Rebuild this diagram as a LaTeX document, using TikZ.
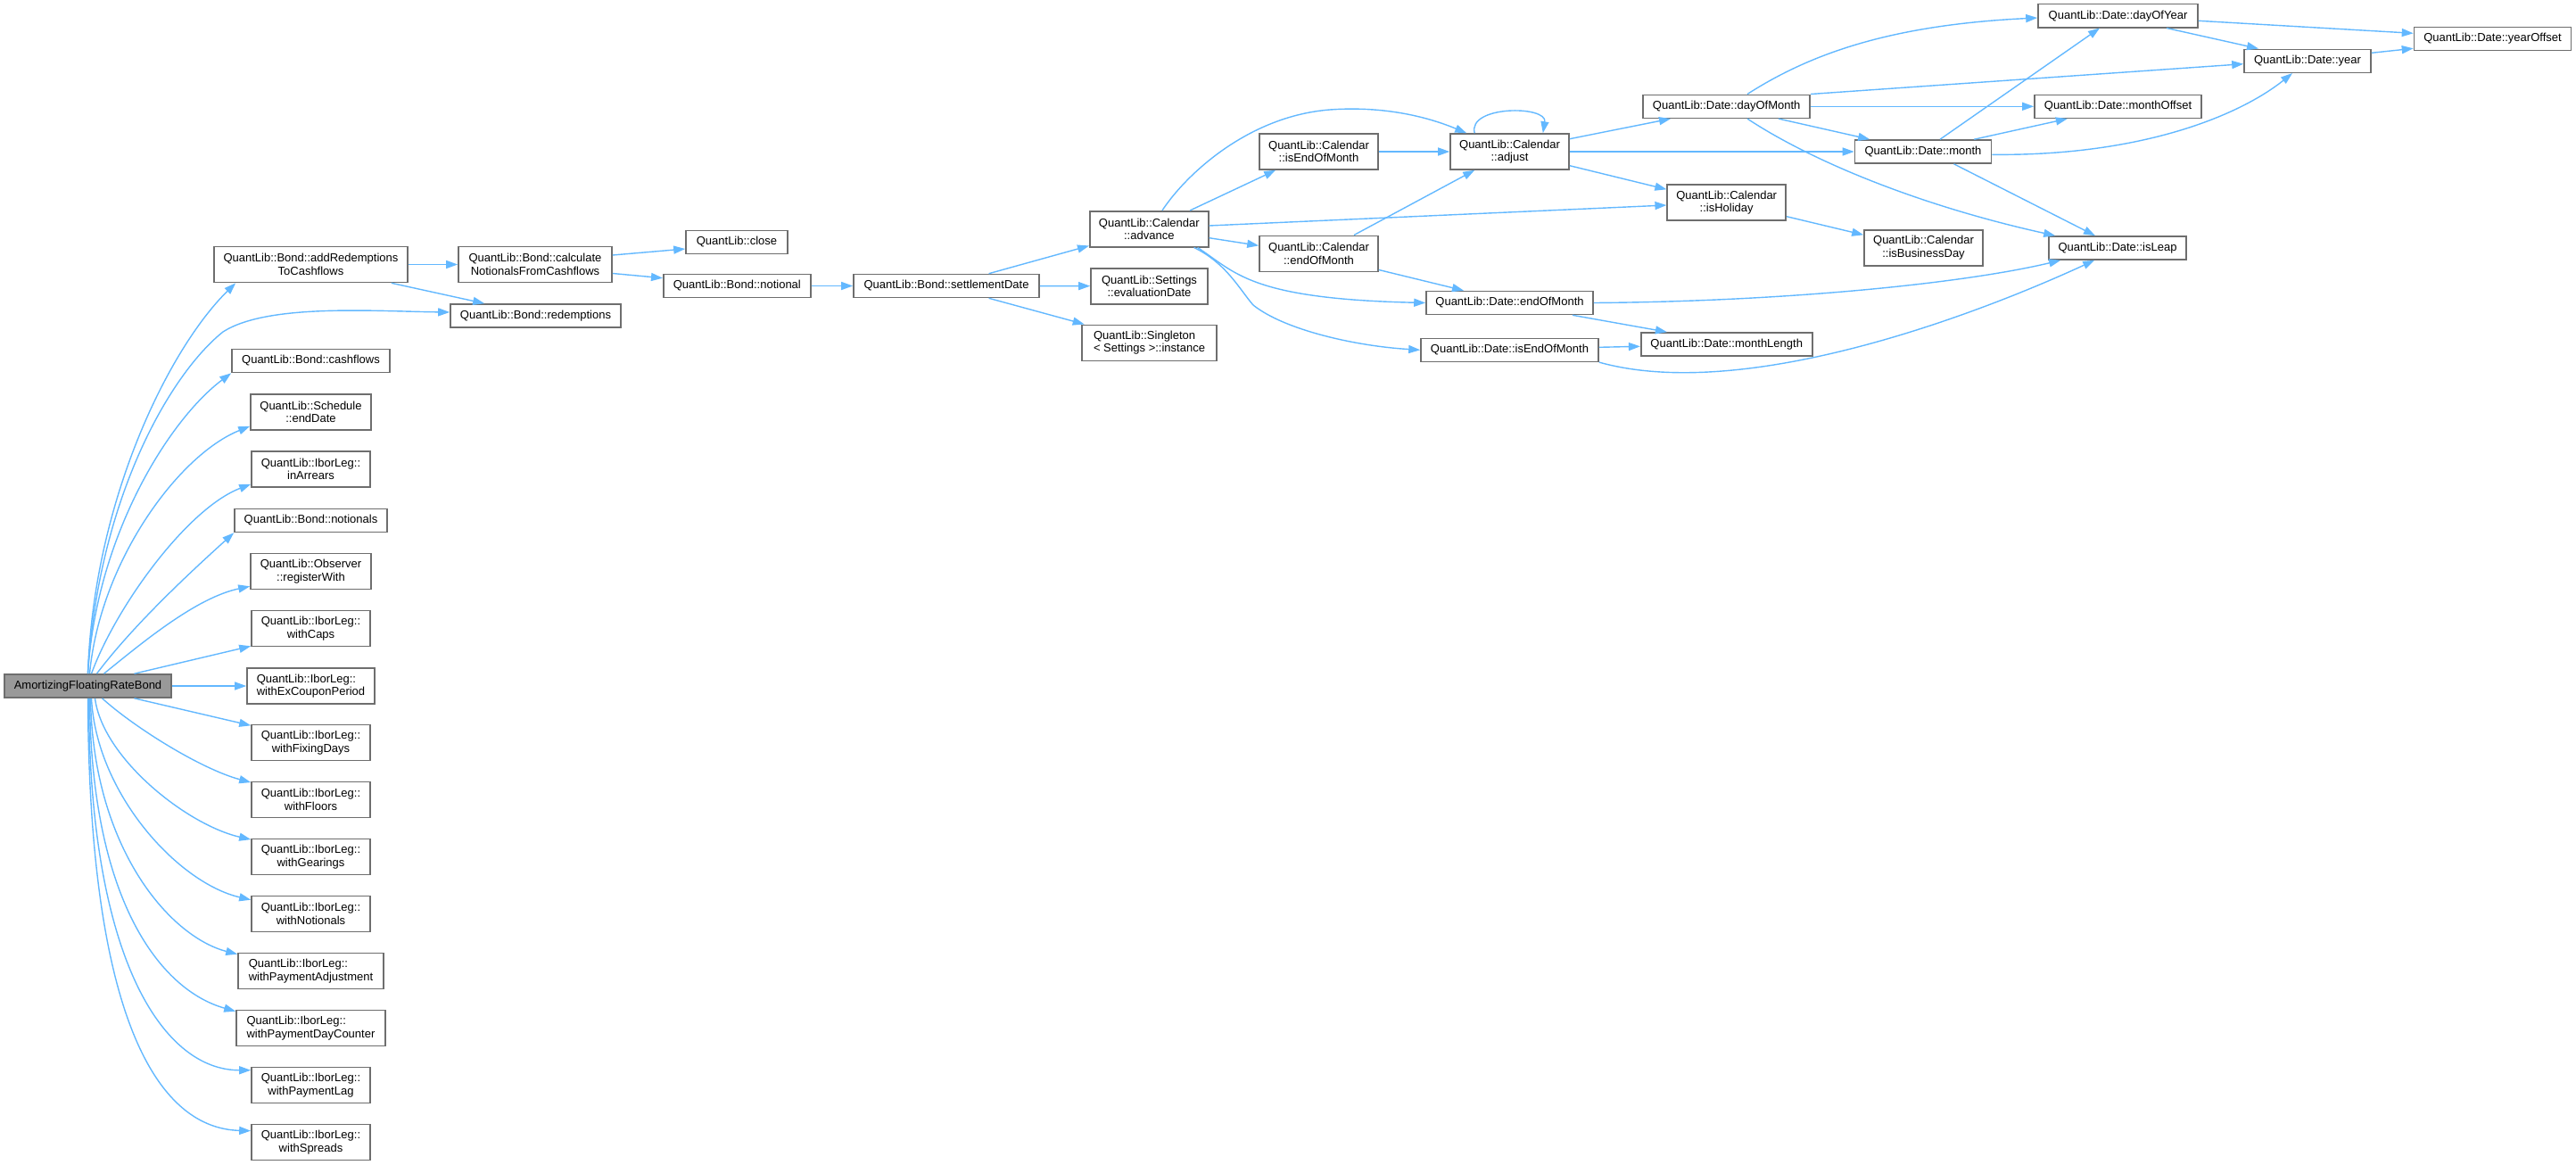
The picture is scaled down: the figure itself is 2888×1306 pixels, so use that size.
\documentclass[tikz,border=0pt]{standalone}
\usepackage{fontspec}
\setmainfont{Liberation Sans}
\usetikzlibrary{arrows.meta}
\definecolor{edgeblue}{HTML}{63B8FF}
\definecolor{boxgrey}{HTML}{6E6E6E}
\definecolor{rootgrey}{HTML}{999999}

\begin{document}
\begin{tikzpicture}[x=0.5pt,y=-0.5pt]
    \tikzstyle{fn}=[draw=boxgrey,line width=0.8pt,fill=white,inner sep=0pt,minimum height=13pt,font=\fontsize{6.5}{7.2}\selectfont,align=center]
    \tikzstyle{fntwo}=[fn,minimum height=20pt]
    \tikzstyle{call}=[draw=edgeblue,line width=0.7pt,-{Triangle[length=6.5pt,width=4.5pt]}]
    \useasboundingbox (0,0) rectangle (2888,1306);
      \node[fn,fill=rootgrey,minimum width=93.5pt] (root) at (98.5,769) {AmortizingFloatingRateBond};
      \node[fntwo,minimum width=108.5pt] (addRed) at (348.5,296.5) {QuantLib::Bond::addRedemptions\\ToCashflows};
      \node[fn,minimum width=88.5pt] (cashfl) at (348.5,404.5) {QuantLib::Bond::cashflows};
      \node[fntwo,minimum width=67.5pt] (endDate) at (348.5,462) {QuantLib::Schedule\\::endDate};
      \node[fntwo,minimum width=66.5pt] (inArr) at (348.5,526) {QuantLib::IborLeg::\\inArrears};
      \node[fn,minimum width=85.5pt] (notionals) at (348.5,583.5) {QuantLib::Bond::notionals};
      \node[fntwo,minimum width=67.5pt] (regWith) at (348.5,640.5) {QuantLib::Observer\\::registerWith};
      \node[fntwo,minimum width=66.5pt] (wCaps) at (348.5,704.5) {QuantLib::IborLeg::\\withCaps};
      \node[fntwo,minimum width=71.5pt,align=left] (wExCoup) at (348.5,769) {QuantLib::IborLeg::\\withExCouponPeriod};
      \node[fntwo,minimum width=66.5pt] (wFixDays) at (348.5,832.5) {QuantLib::IborLeg::\\withFixingDays};
      \node[fntwo,minimum width=66.5pt] (wFloors) at (348.5,896.5) {QuantLib::IborLeg::\\withFloors};
      \node[fntwo,minimum width=66.5pt] (wGear) at (348.5,960.5) {QuantLib::IborLeg::\\withGearings};
      \node[fntwo,minimum width=66.5pt] (wNot) at (348.5,1024.5) {QuantLib::IborLeg::\\withNotionals};
      \node[fntwo,minimum width=81.5pt,align=left] (wPayAdj) at (348.5,1088.5) {QuantLib::IborLeg::\\withPaymentAdjustment};
      \node[fntwo,minimum width=83.5pt,align=left] (wPayDC) at (348.5,1152.5) {QuantLib::IborLeg::\\withPaymentDayCounter};
      \node[fntwo,minimum width=66.5pt] (wPayLag) at (348.5,1216.5) {QuantLib::IborLeg::\\withPaymentLag};
      \node[fntwo,minimum width=66.5pt] (wSpreads) at (348.5,1280.5) {QuantLib::IborLeg::\\withSpreads};
      \node[fntwo,minimum width=86pt] (calcNot) at (600,296.5) {QuantLib::Bond::calculate\\NotionalsFromCashflows};
      \node[fn,minimum width=95.5pt] (redem) at (600.5,354) {QuantLib::Bond::redemptions};
      \node[fn,minimum width=57pt] (close) at (826,271.5) {QuantLib::close};
      \node[fn,minimum width=82.5pt] (notional) at (826.3,320.5) {QuantLib::Bond::notional};
      \node[fn,minimum width=104pt] (settle) at (1061,320.5) {QuantLib::Bond::settlementDate};
      \node[fntwo,minimum width=66.5pt] (advance) at (1288.3,256.7) {QuantLib::Calendar\\::advance};
      \node[fntwo,minimum width=65.5pt] (evalDate) at (1288.5,320.7) {QuantLib::Settings\\::evaluationDate};
      \node[fntwo,minimum width=75.5pt,align=left] (inst) at (1288.5,384.3) {QuantLib::Singleton\\< Settings >::instance};
      \node[fntwo,minimum width=66.5pt] (calIsEom) at (1478.5,170) {QuantLib::Calendar\\::isEndOfMonth};
      \node[fntwo,minimum width=66.5pt] (calEom) at (1478.5,284.3) {QuantLib::Calendar\\::endOfMonth};
      \node[fntwo,minimum width=66.5pt] (adjust) at (1692.5,170) {QuantLib::Calendar\\::adjust};
      \node[fn,minimum width=93.5pt] (dEom) at (1692.5,339.5) {QuantLib::Date::endOfMonth};
      \node[fn,minimum width=99.5pt] (dIsEom) at (1692.5,392.3) {QuantLib::Date::isEndOfMonth};
      \node[fn,minimum width=93.5pt] (dom) at (1935.7,119.3) {QuantLib::Date::dayOfMonth};
      \node[fntwo,minimum width=66.5pt] (isHol) at (1935.7,227) {QuantLib::Calendar\\::isHoliday};
      \node[fn,minimum width=96pt] (mLen) at (1935.7,386) {QuantLib::Date::monthLength};
      \node[fn,minimum width=76.5pt] (month) at (2156,170) {QuantLib::Date::month};
      \node[fntwo,minimum width=66.5pt] (isBus) at (2156.5,277.7) {QuantLib::Calendar\\::isBusinessDay};
      \node[fn,minimum width=89.5pt] (doy) at (2374.5,17.7) {QuantLib::Date::dayOfYear};
      \node[fn,minimum width=93.5pt] (mOff) at (2374.5,119.3) {QuantLib::Date::monthOffset};
      \node[fn,minimum width=77pt] (isLeap) at (2374,278) {QuantLib::Date::isLeap};
      \node[fn,minimum width=71pt] (year) at (2587,68.3) {QuantLib::Date::year};
      \node[fn,minimum width=88pt] (yOff) at (2794.5,43.3) {QuantLib::Date::yearOffset};
      \draw[call] (root.north) .. controls (105,560) and (190,390) .. ([xshift=12.5pt]addRed.south west);
      \draw[call] (root.north) .. controls (110,560) and (190,420) .. (250,372) .. controls (300,340) and (420,349) .. ([yshift=2pt]redem.west);
      \draw[call] (root.north) .. controls (108,600) and (190,470) .. (cashfl.south west);
      \draw[call] ([xshift=1pt]root.north) .. controls (112,630) and (200,510) .. ([yshift=2.5pt]endDate.south west);
      \draw[call] ([xshift=2pt]root.north) .. controls (130,680) and (210,570) .. ([yshift=2pt]inArr.south west);
      \draw[call] ([xshift=5pt]root.north) .. controls (150,700) and (215,640) .. (notionals.south west);
      \draw[call] ([xshift=9pt]root.north) .. controls (160,720) and (220,670) .. ([yshift=2pt]regWith.south west);
      \draw[call] ([xshift=26pt]root.north) -- ([yshift=0.5pt]wCaps.south west);
      \draw[call] (root) -- (wExCoup);
      \draw[call] ([xshift=26pt]root.south) -- ([yshift=-0.8pt]wFixDays.north west);
      \draw[call] ([xshift=8pt]root.south) .. controls (150,815) and (225,862) .. ([yshift=-0.7pt]wFloors.north west);
      \draw[call] ([xshift=4pt]root.south) .. controls (115,850) and (210,925) .. ([yshift=-0.7pt]wGear.north west);
      \draw[call] ([xshift=2pt]root.south) .. controls (108,890) and (200,990) .. ([yshift=-2.5pt]wNot.north west);
      \draw[call] ([xshift=1.5pt]root.south) .. controls (104,950) and (190,1050) .. ([yshift=-1pt]wPayAdj.north west);
      \draw[call] ([xshift=1pt]root.south) .. controls (102,1010) and (180,1110) .. ([yshift=-1pt]wPayDC.north west);
      \draw[call] ([xshift=0.5pt]root.south) .. controls (100,1080) and (185,1200) .. ([yshift=-2pt]wPayLag.north west);
      \draw[call] (root.south) .. controls (100,1150) and (180,1265) .. ([yshift=-4pt]wSpreads.north west);
      \draw[call] (addRed) -- (calcNot);
      \draw[call] ([xshift=-9.5pt]addRed.south east) -- ([xshift=19.5pt]redem.north west);
      \draw[call] ([yshift=5.25pt]calcNot.east) -- ([yshift=-3.75pt]close.west);
      \draw[call] ([yshift=-5pt]calcNot.east) -- ([yshift=4.4pt]notional.west);
      \draw[call] (notional) -- (settle);
      \draw[call] ([xshift=23.8pt]settle.north) -- ([yshift=1pt]advance.south west);
      \draw[call] (settle) -- (evalDate);
      \draw[call] ([xshift=23.8pt]settle.south) -- ([xshift=1.75pt]inst.north west);
      \draw[call] ([xshift=7.35pt]advance.north) .. controls (1330,195) and (1400,130) .. (1491,123) .. controls (1560,118) and (1610,135) .. ([xshift=9.5pt]adjust.north west);
      \draw[call] ([xshift=-10.7pt]advance.north east) -- ([xshift=9.5pt]calIsEom.south west);
      \draw[call] ([yshift=1.85pt]advance.east) -- ([yshift=-1.5pt]isHol.west);
      \draw[call] ([yshift=-5pt]advance.east) -- ([yshift=4.5pt]calEom.west);
      \draw[call] ([xshift=-6.5pt]advance.south east) .. controls (1385,305) and (1400,335) .. (dEom.west);
      \draw[call] ([xshift=-8.5pt]advance.south east) .. controls (1375,295) and (1390,325) .. (1405,342) .. controls (1440,370) and (1520,388) .. (dIsEom.west);
      \draw[call] (calIsEom) -- (adjust);
      \draw[call] ([xshift=19.75pt]calEom.north) -- ([xshift=14pt]adjust.south west);
      \draw[call] ([yshift=1.3pt]calEom.south east) -- ([xshift=21.4pt]dEom.north west);
      \draw[call] ([xshift=14pt]adjust.north west) .. controls (1645,118) and (1735,118) .. ([xshift=-15pt]adjust.north east);
      \draw[call] ([yshift=7.15pt]adjust.east) -- ([xshift=15.8pt]dom.south west);
      \draw[call] (adjust) -- (month);
      \draw[call] ([yshift=-7.85pt]adjust.east) -- ([yshift=7.35pt]isHol.west);
      \draw[call] ([yshift=-7.85pt]isHol.east) -- ([yshift=7.2pt]isBus.west);
      \draw[call] ([xshift=35.25pt]dEom.south) -- ([xshift=15pt]mLen.north west);
      \draw[call] ([yshift=1.5pt]dIsEom.east) -- ([yshift=-1.15pt]mLen.west);
      \draw[call] (dEom.east) .. controls (2000,338) and (2200,318) .. ([xshift=7pt]isLeap.south west);
      \draw[call] (dIsEom.south east) .. controls (1950,450) and (2200,360) .. ([xshift=26pt]isLeap.south west);
      \draw[call] ([xshift=11.65pt]dom.north) .. controls (2030,60) and (2120,28) .. ([yshift=-1.15pt]doy.west);
      \draw[call] (dom.north east) -- ([yshift=-1.7pt]year.west);
      \draw[call] (dom) -- (mOff);
      \draw[call] ([xshift=-18pt]dom.south east) -- ([xshift=8.75pt]month.north west);
      \draw[call] ([xshift=11.65pt]dom.south) .. controls (2030,180) and (2150,230) .. ([xshift=4pt]isLeap.north west);
      \draw[call] ([xshift=9.5pt]month.north) -- ([xshift=-10.25pt]doy.south);
      \draw[call] ([xshift=-10pt]month.north east) -- ([xshift=18.8pt]mOff.south west);
      \draw[call] ([yshift=-1.65pt]month.east) .. controls (2400,175) and (2510,130) .. ([xshift=-8.5pt]year.south);
      \draw[call] ([xshift=17.25pt]month.south) -- ([xshift=-12.5pt]isLeap.north);
      \draw[call] ([yshift=-2.8pt]doy.east) -- ([yshift=3pt]yOff.west);
      \draw[call] ([xshift=27.25pt]doy.south) -- ([xshift=-27.5pt]year.north);
      \draw[call] ([yshift=4.5pt]year.east) -- ([yshift=-5.5pt]yOff.west);
    \end{tikzpicture}
\end{document}
